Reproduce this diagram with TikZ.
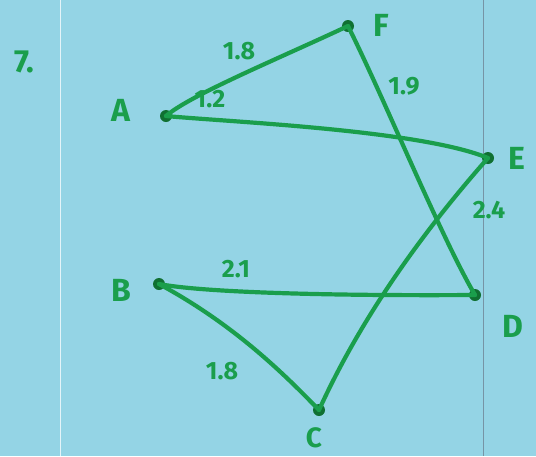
\documentclass[tikz,border=0pt]{standalone}
\usepackage{fontspec}
\setmainfont{Fira Sans}
\definecolor{paper}{RGB}{148,212,229}
\definecolor{ink}{RGB}{26,158,76}
\definecolor{dotink}{RGB}{16,112,50}
\definecolor{rule}{RGB}{118,148,165}
\begin{document}
\begin{tikzpicture}[x=1pt,y=-1pt,
  edge/.style={draw=ink,line width=4.2pt,line cap=round,line join=round},
  vtx/.style={circle,fill=dotink,inner sep=0pt,minimum size=12pt},
  vlab/.style={text=ink,font=\fontsize{32}{32}\selectfont\bfseries,inner sep=0pt},
  wlab/.style={text=ink,font=\fontsize{25}{25}\selectfont\bfseries,inner sep=0pt}]
\fill[paper] (0,0) rectangle (536,456);
\useasboundingbox (0,0) rectangle (536,456);
\draw[white!75!paper,line width=0.8pt] (60,0) -- (60,456);
\draw[rule,line width=1pt] (483,0) -- (483,456);
% vertices
\node[vtx] (A) at (166,116) {};
\node[vtx] (F) at (348,26) {};
\node[vtx] (E) at (488,158) {};
\node[vtx] (D) at (475,295) {};
\node[vtx] (B) at (159,284) {};
\node[vtx] (C) at (319,410) {};
% vertex labels
\node[vlab] (n7) at (24,62) {7.};
\node[vlab] (lA) at (121,110) {A};
\node[vlab] (lF) at (381,25) {F};
\node[vlab] (lE) at (517,158) {E};
\node[vlab] (lD) at (513,326) {D};
\node[vlab] (lB) at (121,290) {B};
\node[vlab,font=\fontsize{28}{28}\selectfont\bfseries] (lC) at (314,438) {C};
% edges
\draw[edge] (A.center) .. controls (190,95) and (280,58) .. (F.center);
\draw[edge] (A.center) .. controls (230,122) and (420,130) .. (E.center);
\draw[edge] (F.center) .. controls (385,100) and (440,235) .. (D.center);
\draw[edge] (E.center) .. controls (420,235) and (360,320) .. (C.center);
\draw[edge] (B.center) .. controls (200,292) and (320,296) .. (D.center);
\draw[edge] (B.center) .. controls (235,325) and (285,375) .. (C.center);
% weights
\node[wlab] (w1) at (239,51) {1.8};
\node[wlab] (w2) at (210,99) {1.2};
\node[wlab] (w3) at (404,86) {1.9};
\node[wlab] (w4) at (489,210) {2.4};
\node[wlab] (w5) at (236,269) {2.1};
\node[wlab] (w6) at (222,371) {1.8};
\end{tikzpicture}
\end{document}
